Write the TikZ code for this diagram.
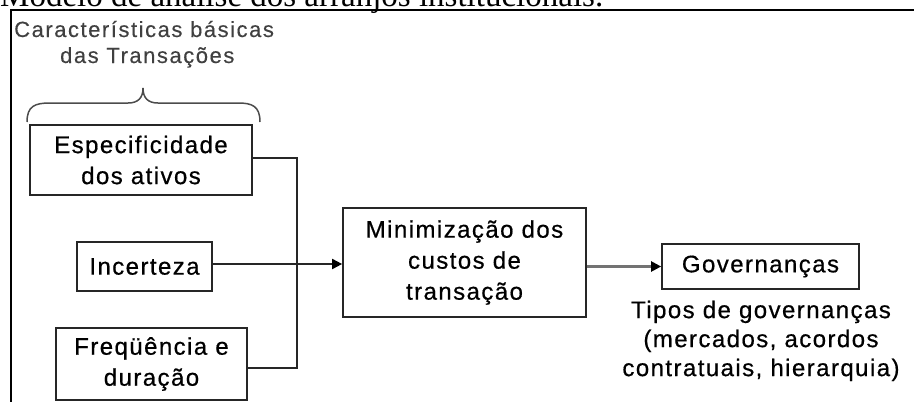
\documentclass[tikz,border=0pt]{standalone}
\usepackage{fontspec}
\setmainfont{Liberation Sans}
\newfontfamily\titleff{Liberation Serif}
\newfontfamily\bodyff[LetterSpace=6,FakeBold=0.6]{Liberation Sans}
\newfontfamily\headff[LetterSpace=7,FakeBold=0.3]{Liberation Sans}
\usetikzlibrary{arrows.meta}
\begin{document}
\begin{tikzpicture}[x=1pt,y=-1pt,
  box/.style={draw=black!85, line width=1.7pt, align=center, inner sep=0pt,
    font=\bodyff\fontsize{24}{31}\selectfont},
  conn/.style={draw=black!85, line width=1.8pt},
  tip/.style={-{Triangle[length=10pt,width=10pt,color=black]}},
  hdr/.style={anchor=base west, inner sep=0pt, text=black!75,
    font=\headff\fontsize{22}{26}\selectfont}]
\useasboundingbox (0,0) rectangle (914,402);
% title (cut off at top, as in the reference)
\node[anchor=base west, inner sep=0pt, font=\titleff\fontsize{33}{36}\selectfont] (title) at (0,6.5)
  {Modelo de análise dos arranjos institucionais.};
% frame
\draw[line width=2.2pt] (914,10) -- (11,10) -- (11,402);
% header
\node[hdr] (hd1) at (14,37) {Características básicas};
\node[hdr] (hd2) at (60,63) {das Transações};
% brace
\draw[draw=black!70, line width=1.5pt]
  (27,122) .. controls (27,106) and (35,103) .. (50,103) -- (128,103)
  .. controls (138,103) and (143,98) .. (143,88)
  .. controls (143,98) and (148,103) .. (158,103) -- (238,103)
  .. controls (252,103) and (260,106) .. (260,122);
% boxes
\node[box, minimum width=222pt, minimum height=70pt] (esp) at (141,160) {Especificidade\\dos ativos};
\node[box, minimum width=135pt, minimum height=49pt] (inc) at (144.5,266.5) {Incerteza};
\node[box, minimum width=191pt, minimum height=72pt] (freq) at (151.5,364) {Freqüência e\\duração};
\node[box, minimum width=243pt, minimum height=109pt] (min) at (464.5,262.5) {Minimização dos\\custos de\\transação};
\node[box, minimum width=197pt, minimum height=45pt] (gov) at (760.5,266.5) {Governanças};
\node[anchor=north, align=center, inner sep=0pt, font=\bodyff\fontsize{24}{29}\selectfont] (tipos) at (761,300.5)
  {Tipos de governanças\\(mercados, acordos\\contratuais, hierarquia)};
% connectors
\coordinate (jn) at (297,158);
\coordinate (js) at (297,368);
\coordinate (ia) at ([yshift=2.5pt]inc.east);
\draw[conn] (esp.east |- jn) -- (jn) -- (js) -- (freq.east |- js);
\draw[conn, tip] (ia) -- (min.west |- ia);
\draw[conn, draw=black!55, line width=2.2pt, tip] (min.east |- gov.west) -- (gov.west);
\end{tikzpicture}
\end{document}
